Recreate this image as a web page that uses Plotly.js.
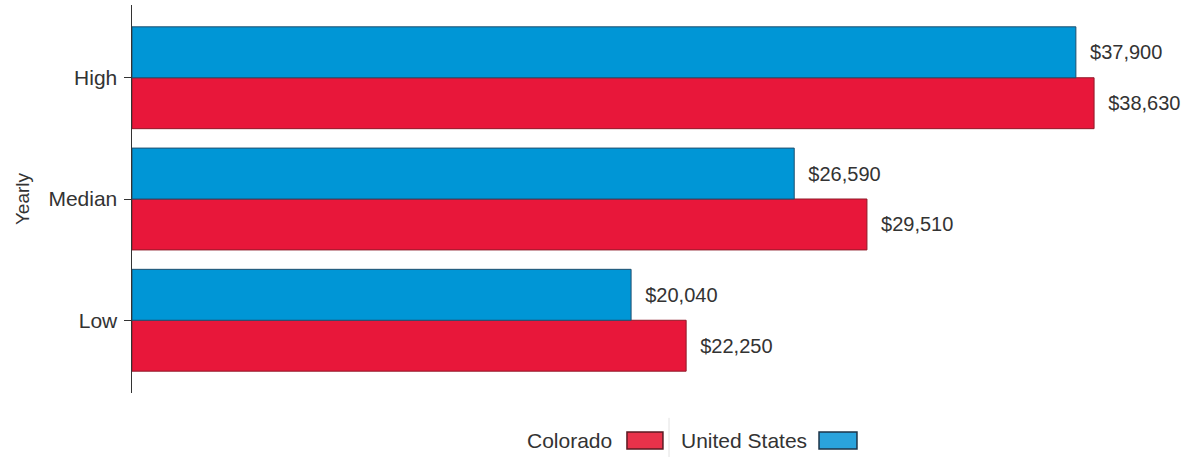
<!DOCTYPE html>
<html>
<head>
<meta charset="utf-8">
<script src="https://cdn.plot.ly/plotly-3.0.1.min.js"></script>
<style>
  html, body { margin: 0; padding: 0; background: #fff; }
  #chart { width: 1189px; height: 457px; }
</style>
</head>
<body>
<div id="chart"></div>
<script>
const categories = ['Low', 'Median', 'High'];
const coloradoValues = [22250, 29510, 38630];
const usValues = [20040, 26590, 37900];
const seriesNames = ['Colorado', 'United States'];

const fmt = v => '\u00a0\u00a0$' + v.toLocaleString('en-US');
const FONT = '"Liberation Sans", Arial, sans-serif';

const traces = [
  {
    type: 'bar', orientation: 'h', name: seriesNames[0],
    y: categories, x: coloradoValues,
    text: coloradoValues.map(fmt), textposition: 'outside', cliponaxis: false,
    textfont: { family: FONT, size: 20, color: '#333' },
    marker: { color: '#e8173a', line: { color: '#8f1a28', width: 1 } },
    hoverinfo: 'none'
  },
  {
    type: 'bar', orientation: 'h', name: seriesNames[1],
    y: categories, x: usValues,
    text: usValues.map(fmt), textposition: 'outside', cliponaxis: false,
    textfont: { family: FONT, size: 20, color: '#333' },
    marker: { color: '#0096d6', line: { color: '#1f4f6e', width: 1 } },
    hoverinfo: 'none'
  }
];

const layout = {
  width: 1189, height: 457,
  margin: { l: 132, r: 11, t: 5, b: 64 },
  paper_bgcolor: '#fff', plot_bgcolor: '#fff',
  barmode: 'group', bargap: 0.16, bargroupgap: 0,
  showlegend: false,
  font: { family: FONT, size: 18, color: '#333' },
  xaxis: {
    range: [0, 42000], showgrid: false, zeroline: false,
    showticklabels: false, showline: false, ticks: ''
  },
  yaxis: {
    type: 'category', categoryorder: 'array', categoryarray: categories,
    range: [-0.6, 2.6],
    showline: true, linecolor: '#333', linewidth: 1.5,
    ticks: 'outside', ticklen: 7, tickcolor: '#333',
    ticklabelstandoff: 2,
    showgrid: false, zeroline: false,
    tickfont: { family: FONT, size: 21, color: '#333' },
    title: { text: 'Yearly', font: { family: FONT, size: 19, color: '#333' }, standoff: 14 }
  },
  annotations: [
    { xref: 'paper', yref: 'paper', x: 0.461, y: -0.122, xanchor: 'right', yanchor: 'middle',
      text: seriesNames[0], showarrow: false, font: { family: FONT, size: 21, color: '#333' } },
    { xref: 'paper', yref: 'paper', x: 0.523, y: -0.122, xanchor: 'left', yanchor: 'middle',
      text: seriesNames[1], showarrow: false, font: { family: FONT, size: 21, color: '#333' } }
  ],
  shapes: [
    { type: 'rect', xref: 'paper', yref: 'paper', x0: 0.4732, x1: 0.5076, y0: -0.1443, y1: -0.1005,
      fillcolor: '#e8324a', line: { color: '#5a1a22', width: 1.5 } },
    { type: 'line', xref: 'paper', yref: 'paper', x0: 0.5134, x1: 0.5134, y0: -0.165, y1: -0.064,
      line: { color: '#e2e2e2', width: 1 } },
    { type: 'rect', xref: 'paper', yref: 'paper', x0: 0.6568, x1: 0.6931, y0: -0.1443, y1: -0.1005,
      fillcolor: '#2aa3dc', line: { color: '#1d3448', width: 1.5 } }
  ]
};

Plotly.newPlot('chart', traces, layout, { displayModeBar: false, staticPlot: true });
</script>
</body>
</html>
